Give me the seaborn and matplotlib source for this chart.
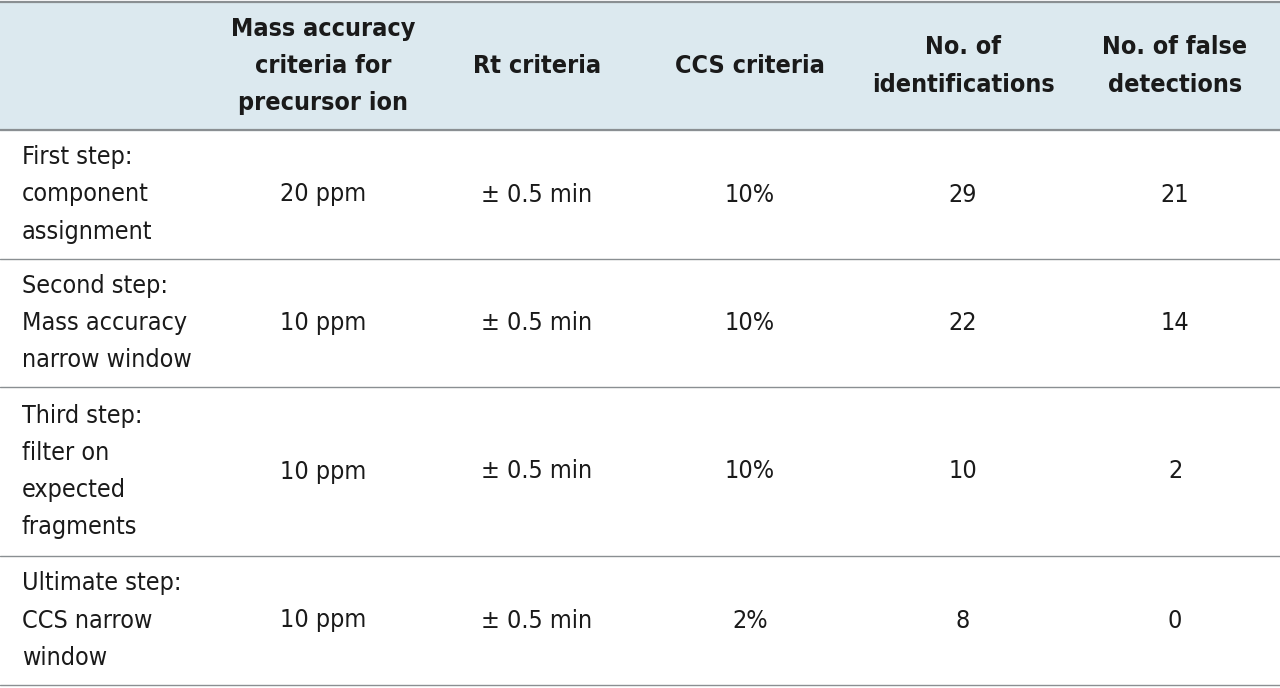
import seaborn as sns
import matplotlib.pyplot as plt

sns.set_theme(style="white")
plt.rcParams['font.family'] = ['DejaVu Sans']
plt.rcParams['font.stretch'] = 'condensed'

headers = ["", "Mass accuracy\ncriteria for\nprecursor ion", "Rt criteria", "CCS criteria",
           "No. of\nidentifications", "No. of false\ndetections"]
steps = ["First step:\ncomponent\nassignment",
         "Second step:\nMass accuracy\nnarrow window",
         "Third step:\nfilter on\nexpected\nfragments",
         "Ultimate step:\nCCS narrow\nwindow"]
mass_acc = ["20 ppm", "10 ppm", "10 ppm", "10 ppm"]
rt = ["± 0.5 min"] * 4
ccs = ["10%", "10%", "10%", "2%"]
n_ident = [29, 22, 10, 8]
n_false = [21, 14, 2, 0]

col_x = [22, 323, 537, 750, 963, 1175]
row_edges = [2, 130, 259, 387, 556, 685]

fig = plt.figure(figsize=(12.8, 6.88), dpi=100)
ax = fig.add_axes([0, 0, 1, 1])
ax.set_xlim(0, 1280)
ax.set_ylim(688, 0)
ax.axis("off")

ax.axhspan(row_edges[0], row_edges[1], color="#dce9ef", zorder=0)
for y in row_edges:
    ax.axhline(y, color="#8a8f92", lw=1.6 if y in (2, 130) else 1.0)

fs = 18
hy = (row_edges[0] + row_edges[1]) / 2
for i, h in enumerate(headers):
    ax.text(col_x[i], hy, h, ha="center", va="center", fontsize=fs,
            fontweight="bold", color="#1a1a1a", linespacing=1.7)

for r in range(4):
    cy = (row_edges[r + 1] + row_edges[r + 2]) / 2
    ax.text(col_x[0], cy, steps[r], ha="left", va="center", fontsize=fs,
            color="#1a1a1a", linespacing=1.7)
    vals = [mass_acc[r], rt[r], ccs[r], str(n_ident[r]), str(n_false[r])]
    for c, v in enumerate(vals, start=1):
        ax.text(col_x[c], cy, v, ha="center", va="center", fontsize=fs, color="#1a1a1a")

fig.savefig("out.png", dpi=100)
